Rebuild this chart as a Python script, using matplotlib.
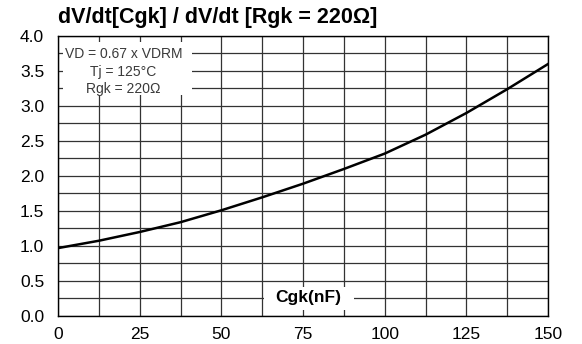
import matplotlib
matplotlib.use("Agg")
import matplotlib.pyplot as plt
from matplotlib.patches import Rectangle

plt.rcParams['font.family'] = ['Liberation Sans', 'DejaVu Sans']

# dV/dt ratio vs gate-cathode capacitance
cgk_nf = [0, 12.5, 25, 37.5, 50, 62.5, 75, 87.5, 100, 112.5, 125, 137.5, 150]
dvdt_ratio = [0.97, 1.075, 1.2, 1.34, 1.51, 1.695, 1.89, 2.1, 2.32, 2.59, 2.9, 3.24, 3.6]

x_major = [0, 25, 50, 75, 100, 125, 150]
x_minor = [12.5, 37.5, 62.5, 87.5, 112.5, 137.5]
y_major = [0.0, 0.5, 1.0, 1.5, 2.0, 2.5, 3.0, 3.5, 4.0]
y_minor = [0.25, 0.75, 1.25, 1.75, 2.25, 2.75, 3.25, 3.75]

conditions = ["VD = 0.67 x VDRM", "Tj = 125°C", "Rgk = 220Ω"]

fig = plt.figure(figsize=(5.82, 3.44), dpi=100)
ax = fig.add_axes([0.0997, 0.0814, 0.842, 0.814])

ax.set_xlim(0, 150)
ax.set_ylim(0, 4)
ax.set_xticks(x_major)
ax.set_xticks(x_minor, minor=True)
ax.set_yticks(y_major)
ax.set_yticks(y_minor, minor=True)
ax.set_xticklabels([str(v) for v in x_major])
ax.set_yticklabels(["%.1f" % v for v in y_major])
ax.tick_params(which='both', length=0, labelsize=12.5, colors='black')
ax.tick_params(axis='x', pad=8)
ax.tick_params(axis='y', pad=10)

ax.grid(True, which='both', color='#333333', linewidth=0.9)
ax.set_axisbelow(True)
for s in ax.spines.values():
    s.set_linewidth(1.0)
    s.set_color('black')

ax.plot(cgk_nf, dvdt_ratio, color='black', linewidth=1.8, zorder=3)

# white patches behind the condition text and the axis name
ax.add_patch(Rectangle((1.5, 3.16), 39.5, 0.75, facecolor='white',
                       edgecolor='none', zorder=2))
ax.add_patch(Rectangle((63, 0.09), 27.5, 0.33, facecolor='white',
                       edgecolor='none', zorder=2))

for i, line in enumerate(conditions):
    ax.text(20, 3.74 - i * 0.25, line, ha='center', va='center',
            fontsize=10, color='#3a3a3a', zorder=4)

ax.text(76.5, 0.26, "Cgk(nF)", ha='center', va='center', fontsize=12.5,
        fontweight='bold', zorder=4)

fig.text(0.0997, 0.918, "dV/dt[Cgk] / dV/dt [Rgk = 220Ω]", ha='left',
         va='bottom', fontsize=15.5, fontweight='bold')

fig.savefig("out.png", dpi=100, facecolor='white')
